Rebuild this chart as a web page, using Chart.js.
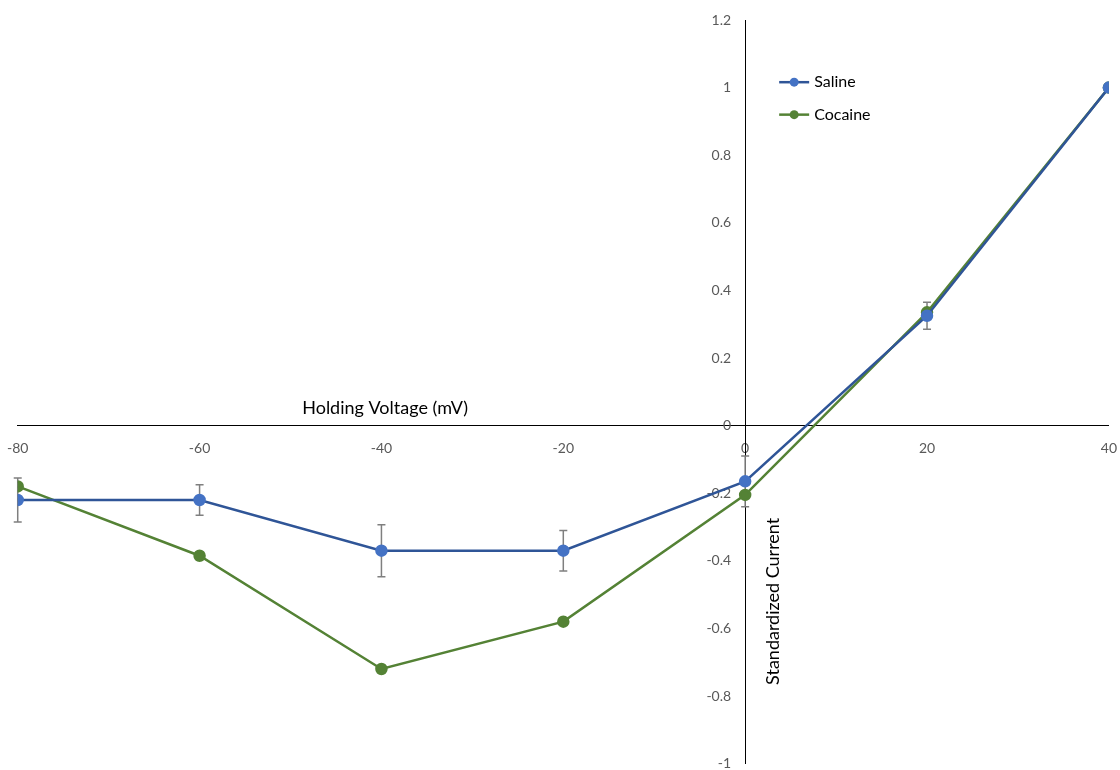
<!DOCTYPE html>
<html>
<head>
<meta charset="utf-8">
<script src="https://cdn.jsdelivr.net/npm/chart.js@4"></script>
<style>
  html, body { margin: 0; padding: 0; background: #fff; overflow: hidden; }
  #wrap { width: 1122px; height: 774px; margin-left: 1px; }
</style>
</head>
<body>
<div id="wrap"><canvas id="chart"></canvas></div>
<script>
// holding voltage (mV)
const voltages = [-80, -60, -40, -20, 0, 20, 40];
const saline = [-0.22, -0.22, -0.37, -0.37, -0.165, 0.325, 1];
const salineErr = [0.065, 0.045, 0.077, 0.06, 0.075, 0.04, 0];
const cocaine = [-0.18, -0.385, -0.72, -0.58, -0.205, 0.335, 1];

const xTitle = "Holding Voltage (mV)";
const yTitle = "Standardized Current";

const fontFam = "Lato, 'Open Sans', sans-serif";

function toPoints(ys) {
    return voltages.map((v, i) => ({ x: v, y: ys[i] }));
}

// error bars + axis titles + legend
const extras = {
    id: "extras",
    beforeDatasetsDraw(chart) {
        const ctx = chart.ctx;
        const xs = chart.scales.x, ys = chart.scales.y;
        ctx.save();
        ctx.strokeStyle = "#7f7f7f";
        ctx.lineWidth = 1.5;
        for (let i = 0; i < voltages.length; i++) {
            if (!salineErr[i]) continue;
            let px = xs.getPixelForValue(voltages[i]);
            let top = ys.getPixelForValue(saline[i] + salineErr[i]);
            let bot = ys.getPixelForValue(saline[i] - salineErr[i]);
            ctx.beginPath();
            ctx.moveTo(px, top); ctx.lineTo(px, bot);
            ctx.moveTo(px - 4, top); ctx.lineTo(px + 4, top);
            ctx.moveTo(px - 4, bot); ctx.lineTo(px + 4, bot);
            ctx.stroke();
        }
        ctx.restore();
    },
    afterDraw(chart) {
        const ctx = chart.ctx;
        const xs = chart.scales.x, ys = chart.scales.y;
        const x0 = xs.getPixelForValue(0), y0 = ys.getPixelForValue(0);
        ctx.save();
        ctx.fillStyle = "#000";
        ctx.font = "18px " + fontFam;
        ctx.textAlign = "center";
        ctx.textBaseline = "bottom";
        ctx.fillText(xTitle, xs.getPixelForValue(-39.6), y0 - 8);

        ctx.translate(x0 + 28, ys.getPixelForValue(-0.52));
        ctx.rotate(-Math.PI / 2);
        ctx.textBaseline = "middle";
        ctx.fillText(yTitle, 0, 0);
        ctx.restore();

        // legend
        ctx.save();
        const rows = [[chart.data.datasets[0], 1.016], [chart.data.datasets[1], 0.92]];
        rows.forEach(([ds, val]) => {
            let y = ys.getPixelForValue(val);
            let lx = x0 + 34;
            ctx.strokeStyle = ds.borderColor;
            ctx.lineWidth = 2.5;
            ctx.beginPath();
            ctx.moveTo(lx, y); ctx.lineTo(lx + 30, y);
            ctx.stroke();
            ctx.fillStyle = ds.pointBackgroundColor;
            ctx.beginPath();
            ctx.arc(lx + 15, y, 4.5, 0, Math.PI * 2);
            ctx.fill();
            ctx.fillStyle = "#000";
            ctx.font = "16px " + fontFam;
            ctx.textAlign = "left";
            ctx.textBaseline = "middle";
            ctx.fillText(ds.label, lx + 35, y);
        });
        ctx.restore();
    }
};

new Chart(document.getElementById("chart"), {
    type: "line",
    data: {
        datasets: [
            {
                label: "Saline",
                data: toPoints(saline),
                borderColor: "#2f5597",
                backgroundColor: "#4472c4",
                pointBackgroundColor: "#4472c4",
                pointBorderColor: "#4472c4",
                borderWidth: 2.5,
                pointRadius: 5,
                tension: 0
            },
            {
                label: "Cocaine",
                data: toPoints(cocaine),
                borderColor: "#548235",
                backgroundColor: "#548235",
                pointBackgroundColor: "#548235",
                pointBorderColor: "#548235",
                borderWidth: 2.5,
                pointRadius: 5,
                tension: 0
            }
        ]
    },
    options: {
        responsive: true,
        maintainAspectRatio: false,
        animation: false,
        layout: { padding: { left: 12, right: 3, top: 20, bottom: 0 } },
        plugins: {
            legend: { display: false },
            tooltip: { enabled: false }
        },
        scales: {
            x: {
                type: "linear",
                position: { y: 0 },
                min: -80, max: 40,
                grid: { display: false },
                border: { display: true, color: "#000", width: 1 },
                ticks: {
                    stepSize: 20,
                    padding: 6,
                    color: "#595959",
                    font: { family: fontFam, size: 14 },
                    maxRotation: 0
                }
            },
            y: {
                type: "linear",
                position: { x: 0 },
                min: -1, max: 1.2,
                grid: {
                    display: true,
                    drawOnChartArea: false,
                    drawTicks: true,
                    tickLength: 14,
                    tickColor: "rgba(0,0,0,0)"
                },
                border: { display: true, color: "#000", width: 1 },
                ticks: {
                    stepSize: 0.2,
                    padding: 2,
                    color: "#595959",
                    font: { family: fontFam, size: 14 },
                    // labels sit left of the axis; trailing gap keeps them off the line
                    callback: v => String(Math.round(v * 10) / 10) + "\u2002\u2002"
                }
            }
        }
    },
    plugins: [extras]
});
</script>
</body>
</html>
